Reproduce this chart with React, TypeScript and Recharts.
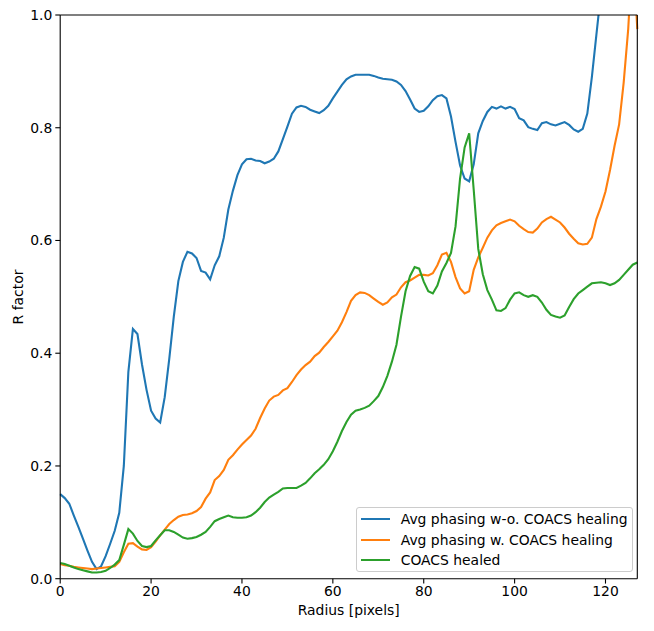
import React from 'react';
import { LineChart, Line, XAxis, YAxis, Legend, ReferenceLine } from 'recharts';

// R factor per radius (index = radius in pixels)
const withoutHealing = [
  0.150, 0.143, 0.133, 0.112, 0.092, 0.071, 0.050, 0.030, 0.017, 0.022,
  0.040, 0.062, 0.085, 0.117, 0.200, 0.367, 0.443, 0.434, 0.380, 0.335,
  0.298, 0.284, 0.277, 0.322, 0.390, 0.465, 0.528, 0.562, 0.580, 0.577,
  0.569, 0.546, 0.543, 0.531, 0.556, 0.572, 0.605, 0.655, 0.688, 0.716,
  0.735, 0.744, 0.745, 0.742, 0.741, 0.737, 0.740, 0.745, 0.758, 0.780,
  0.802, 0.825, 0.836, 0.839, 0.837, 0.832, 0.829, 0.826, 0.831, 0.839,
  0.852, 0.864, 0.876, 0.886, 0.891, 0.894, 0.894, 0.894, 0.894, 0.892,
  0.889, 0.887, 0.886, 0.885, 0.882, 0.876, 0.865, 0.850, 0.834, 0.828,
  0.830, 0.838, 0.849, 0.856, 0.858, 0.852, 0.820, 0.775, 0.733, 0.710,
  0.705, 0.735, 0.790, 0.812, 0.828, 0.837, 0.834, 0.838, 0.834, 0.837,
  0.833, 0.817, 0.813, 0.801, 0.798, 0.796, 0.808, 0.810, 0.806, 0.804,
  0.807, 0.810, 0.805, 0.797, 0.793, 0.798, 0.825, 0.890, 0.965, 1.040,
  1.100, 1.150, 1.200, 1.250, 1.300, 1.350, 1.400, 1.450,
];

const withHealing = [
  0.026, 0.024, 0.023, 0.021, 0.020, 0.019, 0.018, 0.017, 0.018, 0.019,
  0.020, 0.021, 0.022, 0.030, 0.047, 0.062, 0.063, 0.057, 0.052, 0.051,
  0.056, 0.066, 0.077, 0.087, 0.097, 0.104, 0.110, 0.113, 0.114, 0.116,
  0.120, 0.127, 0.142, 0.153, 0.175, 0.182, 0.193, 0.211, 0.219, 0.229,
  0.238, 0.246, 0.254, 0.266, 0.285, 0.302, 0.316, 0.323, 0.326, 0.334,
  0.338, 0.349, 0.361, 0.371, 0.379, 0.385, 0.395, 0.401, 0.411, 0.420,
  0.430, 0.440, 0.455, 0.473, 0.493, 0.503, 0.508, 0.507, 0.503, 0.497,
  0.491, 0.486, 0.490, 0.499, 0.504, 0.517, 0.526, 0.529, 0.534, 0.539,
  0.539, 0.538, 0.542, 0.556, 0.575, 0.578, 0.562, 0.535, 0.515, 0.506,
  0.510, 0.548, 0.570, 0.587, 0.605, 0.618, 0.627, 0.631, 0.634, 0.637,
  0.634, 0.626, 0.620, 0.615, 0.614, 0.621, 0.632, 0.638, 0.642, 0.637,
  0.632, 0.623, 0.612, 0.603, 0.595, 0.593, 0.594, 0.605, 0.638, 0.660,
  0.687, 0.725, 0.768, 0.806, 0.880, 0.975, 1.120, 0.975,
];

const healed = [
  0.028, 0.026, 0.023, 0.020, 0.017, 0.015, 0.013, 0.011, 0.011, 0.012,
  0.014, 0.019, 0.025, 0.033, 0.060, 0.088, 0.080, 0.067, 0.058, 0.056,
  0.058, 0.068, 0.077, 0.086, 0.086, 0.083, 0.078, 0.073, 0.071, 0.072,
  0.074, 0.078, 0.083, 0.092, 0.102, 0.106, 0.109, 0.112, 0.109, 0.108,
  0.108, 0.109, 0.112, 0.118, 0.126, 0.136, 0.144, 0.149, 0.154, 0.160,
  0.161, 0.161, 0.161, 0.165, 0.170, 0.178, 0.187, 0.194, 0.202, 0.212,
  0.226, 0.243, 0.262, 0.278, 0.291, 0.298, 0.300, 0.303, 0.307, 0.315,
  0.324, 0.340, 0.360, 0.385, 0.415, 0.465, 0.510, 0.537, 0.553, 0.550,
  0.527, 0.510, 0.506, 0.520, 0.545, 0.560, 0.578, 0.625, 0.710, 0.765,
  0.790, 0.690, 0.585, 0.540, 0.512, 0.495, 0.476, 0.475, 0.480, 0.495,
  0.506, 0.508, 0.503, 0.500, 0.503, 0.500, 0.490, 0.477, 0.468, 0.465,
  0.463, 0.467, 0.482, 0.496, 0.506, 0.512, 0.518, 0.524, 0.525, 0.526,
  0.524, 0.521, 0.524, 0.530, 0.539, 0.548, 0.557, 0.561,
];

const xTicks = [0, 20, 40, 60, 80, 100, 120];
const yTicks = [0, 0.2, 0.4, 0.6, 0.8, 1.0];

const series = [
  { key: 'wo', name: 'Avg phasing w-o. COACS healing', color: '#1f77b4' },
  { key: 'w', name: 'Avg phasing w. COACS healing', color: '#ff7f0e' },
  { key: 'healed', name: 'COACS healed', color: '#2ca02c' },
];

const data = withoutHealing.map((v, i) => ({
  r: i,
  wo: v,
  w: withHealing[i],
  healed: healed[i],
}));

const FONT = 'DejaVu Sans, sans-serif';
const tickStyle = { fontSize: 13.9, fill: '#000', fontFamily: FONT };

const LegendBox = () => (
  <div
    style={{
      position: 'relative',
      width: 277,
      height: 65,
      boxSizing: 'border-box',
      border: '1px solid #cccccc',
      borderRadius: 3,
      background: 'rgba(255,255,255,0.8)',
      fontFamily: FONT,
      fontSize: 13.9,
      color: '#000',
    }}
  >
    {series.map((s, i) => (
      <div key={s.key}>
        <div
          style={{
            position: 'absolute',
            left: 4,
            top: 10.6 + i * 20.5,
            width: 29,
            height: 2.1,
            background: s.color,
          }}
        />
        <div
          style={{
            position: 'absolute',
            left: 44,
            top: 2.6 + i * 20.5,
            lineHeight: '18px',
            whiteSpace: 'nowrap',
          }}
        >
          {s.name}
        </div>
      </div>
    ))}
  </div>
);

export default function App() {
  return (
    <div style={{ position: 'absolute', left: 0, top: 0, background: '#fff' }}>
      <LineChart
        width={654}
        height={631}
        data={data}
        margin={{ top: 15, right: 16.7, left: 8.2, bottom: 12.3 }}
      >
        <XAxis
          dataKey="r"
          type="number"
          domain={[0, 127]}
          ticks={xTicks}
          height={40}
          tick={tickStyle}
          tickSize={4.9}
          tickMargin={3}
          stroke="#000"
          strokeWidth={1.1}
          label={{
            content: () => (
              <text x={348.7} y={615} textAnchor="middle" fontSize={13.9} fontFamily={FONT} fill="#000">
                Radius [pixels]
              </text>
            ),
          }}
        />
        <YAxis
          type="number"
          domain={[0, 1]}
          allowDataOverflow
          ticks={yTicks}
          width={52}
          tick={tickStyle}
          tickFormatter={(v: number) => v.toFixed(1)}
          tickSize={4.9}
          tickMargin={3}
          stroke="#000"
          strokeWidth={1.1}
          label={{
            content: () => (
              <text
                x={18}
                y={297}
                transform="rotate(-90 18 297)"
                textAnchor="middle"
                dominantBaseline="central"
                fontSize={13.9}
                fontFamily={FONT}
                fill="#000"
              >
                R factor
              </text>
            ),
          }}
        />
        {series.map((s) => (
          <Line
            key={s.key}
            type="linear"
            dataKey={s.key}
            name={s.name}
            stroke={s.color}
            strokeWidth={2.1}
            dot={false}
            activeDot={false}
            isAnimationActive={false}
          />
        ))}
        <ReferenceLine y={1} stroke="#000" strokeWidth={1.1} />
        <ReferenceLine x={127} stroke="#000" strokeWidth={1.1} />
        <Legend
          layout="vertical"
          align="center"
          verticalAlign="middle"
          wrapperStyle={{ left: 355.7, top: 506.7, width: 277, height: 65 }}
          content={() => <LegendBox />}
        />
      </LineChart>
    </div>
  );
}
